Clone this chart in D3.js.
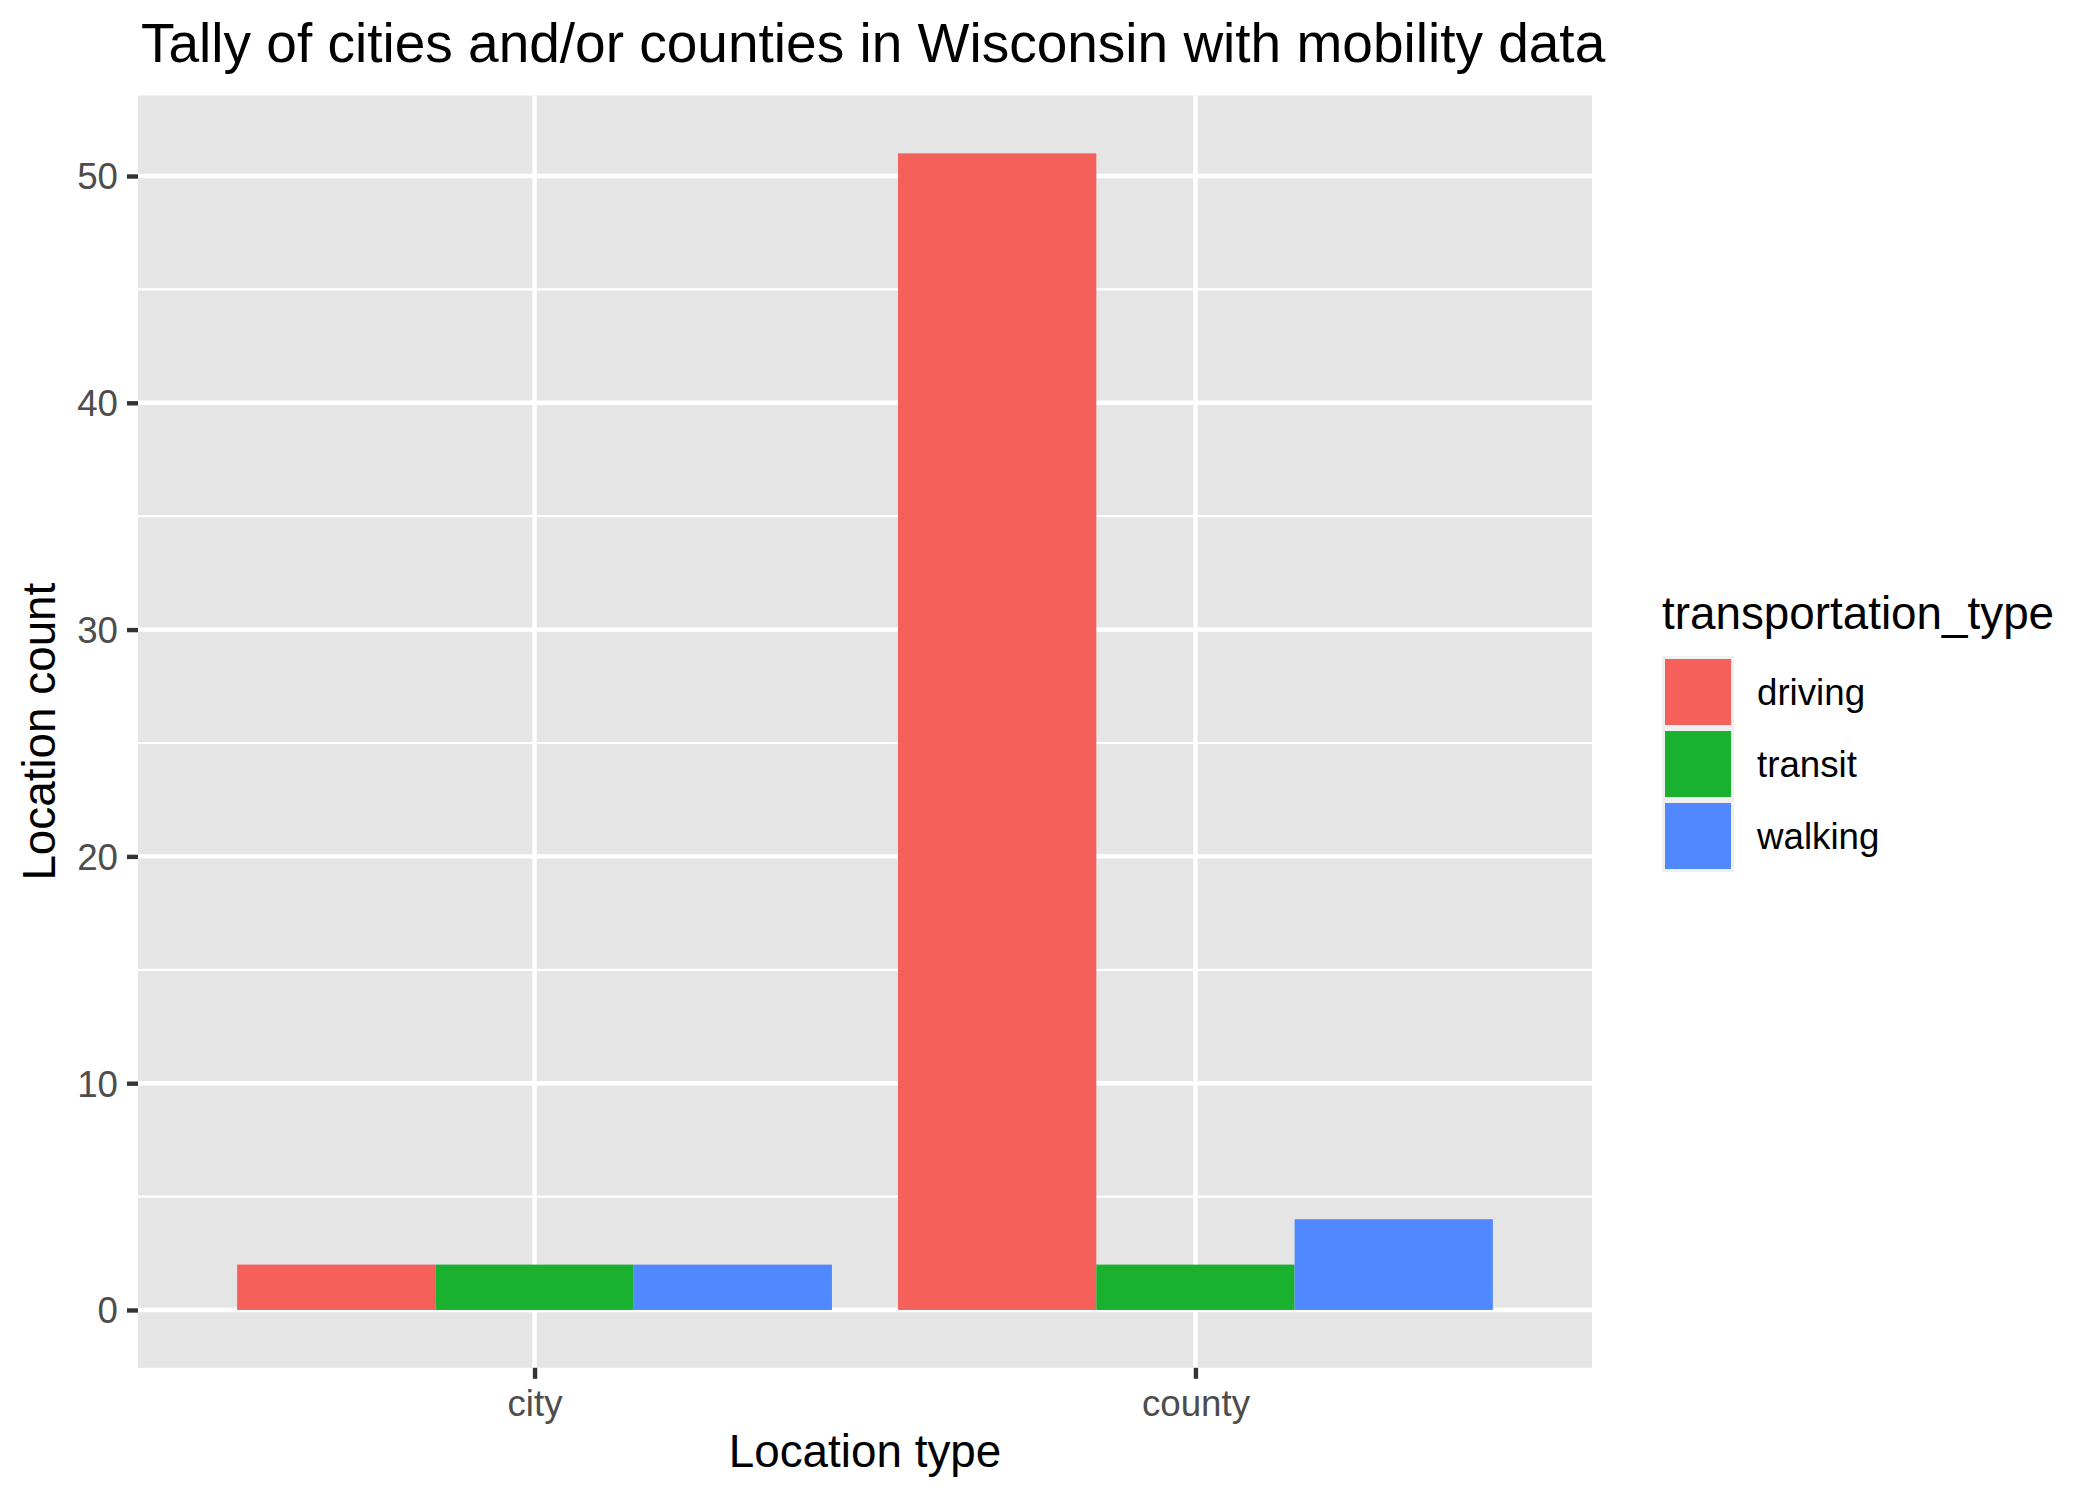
<!DOCTYPE html>
<html>
<head>
<meta charset="utf-8">
<script src="https://cdn.jsdelivr.net/npm/d3@7"></script>
<style>
  html, body { margin: 0; padding: 0; background: #fff; }
  svg { display: block; }
  text { font-family: "Liberation Sans", Arial, Helvetica, sans-serif; }
</style>
</head>
<body>
<svg id="chart" width="2099" height="1499"></svg>
<script>
// ---- data ----
const categories = ["city", "county"];
const seriesNames = ["driving", "transit", "walking"];
const driving = [2, 51];
const transit = [2, 2];
const walking = [2, 4];
const yTicks = [0, 10, 20, 30, 40, 50];
const yMinorTicks = [5, 15, 25, 35, 45];
const colors = ["#F5605B", "#19B12E", "#5089FF"];

const seriesValues = { driving, transit, walking };

// ---- layout ----
const W = 2099, H = 1499;
const panel = { left: 138, right: 1592, top: 95.5, bottom: 1367.8 };
const svg = d3.select("#chart");

const maxV = d3.max(seriesNames.flatMap(s => seriesValues[s]));
const minV = 0;
const span = maxV - minV;
const y = d3.scaleLinear()
  .domain([minV - span * 0.05, maxV + span * 0.05])
  .range([panel.bottom, panel.top]);

const x = d3.scalePoint()
  .domain(categories)
  .range([panel.left, panel.right])
  .padding(0.6);
const step = x.step();
const xs = d3.scaleBand()
  .domain(seriesNames)
  .range([-0.45 * step, 0.45 * step])
  .padding(0);
const color = d3.scaleOrdinal().domain(seriesNames).range(colors);

// panel background
svg.append("rect")
  .attr("x", panel.left).attr("y", panel.top)
  .attr("width", panel.right - panel.left)
  .attr("height", panel.bottom - panel.top)
  .attr("fill", "#E5E5E5");

const grid = svg.append("g");
// minor grid
grid.selectAll("line.minor").data(yMinorTicks).join("line")
  .attr("x1", panel.left).attr("x2", panel.right)
  .attr("y1", d => y(d)).attr("y2", d => y(d))
  .attr("stroke", "#fff").attr("stroke-width", 2.2);
// major grid
grid.selectAll("line.major").data(yTicks).join("line")
  .attr("x1", panel.left).attr("x2", panel.right)
  .attr("y1", d => y(d)).attr("y2", d => y(d))
  .attr("stroke", "#fff").attr("stroke-width", 4.4);
grid.selectAll("line.vmajor").data(categories).join("line")
  .attr("x1", d => x(d)).attr("x2", d => x(d))
  .attr("y1", panel.top).attr("y2", panel.bottom)
  .attr("stroke", "#fff").attr("stroke-width", 4.4);

// bars
const rows = [];
categories.forEach((c, i) => {
  seriesNames.forEach(s => rows.push({ cat: c, series: s, value: seriesValues[s][i] }));
});
svg.append("g").selectAll("rect").data(rows).join("rect")
  .attr("x", d => x(d.cat) + xs(d.series))
  .attr("width", xs.bandwidth())
  .attr("y", d => y(Math.max(0, d.value)))
  .attr("height", d => Math.abs(y(d.value) - y(0)))
  .attr("fill", d => color(d.series));

// axes
const yAxis = d3.axisLeft(y).tickValues(yTicks).tickSize(11).tickPadding(9).tickFormat(d3.format("d"));
const gy = svg.append("g").attr("transform", `translate(${panel.left},0)`).call(yAxis);
gy.select(".domain").remove();
gy.selectAll(".tick line").attr("stroke", "#333333").attr("stroke-width", 4.4);
gy.selectAll(".tick text").attr("fill", "#4D4D4D").attr("font-size", 36.7)
  .attr("font-family", "Liberation Sans, Arial, sans-serif").attr("dy", "0.35em");

const xAxis = d3.axisBottom(x).tickSize(11).tickPadding(9);
const gx = svg.append("g").attr("transform", `translate(0,${panel.bottom})`).call(xAxis);
gx.select(".domain").remove();
gx.selectAll(".tick line").attr("stroke", "#333333").attr("stroke-width", 4.4);
gx.selectAll(".tick text").attr("fill", "#4D4D4D").attr("font-size", 36.7)
  .attr("font-family", "Liberation Sans, Arial, sans-serif").attr("dy", "0.78em");

// titles
svg.append("text")
  .attr("x", 141).attr("y", 62)
  .attr("font-size", 55).attr("fill", "#000")
  .text("Tally of cities and/or counties in Wisconsin with mobility data");

svg.append("text")
  .attr("x", (panel.left + panel.right) / 2).attr("y", 1467)
  .attr("text-anchor", "middle").attr("font-size", 45.8).attr("fill", "#000")
  .text("Location type");

svg.append("text")
  .attr("transform", `translate(55,${(panel.top + panel.bottom) / 2}) rotate(-90)`)
  .attr("text-anchor", "middle").attr("font-size", 45.8).attr("fill", "#000")
  .text("Location count");

// legend
const lg = svg.append("g");
lg.append("text").attr("x", 1662).attr("y", 629)
  .attr("font-size", 45.8).attr("fill", "#000").text("transportation_type");
const keyTop = 656, keySize = 72;
seriesNames.forEach((s, i) => {
  const ky = keyTop + i * keySize;
  lg.append("rect").attr("x", 1662).attr("y", ky).attr("width", keySize).attr("height", keySize)
    .attr("fill", "#F0F0F0");
  lg.append("rect").attr("x", 1665).attr("y", ky + 3).attr("width", keySize - 6).attr("height", keySize - 6)
    .attr("fill", color(s));
  lg.append("text").attr("x", 1757).attr("y", ky + keySize / 2).attr("dy", "0.35em")
    .attr("font-size", 36.7).attr("fill", "#000").text(s);
});
</script>
</body>
</html>
